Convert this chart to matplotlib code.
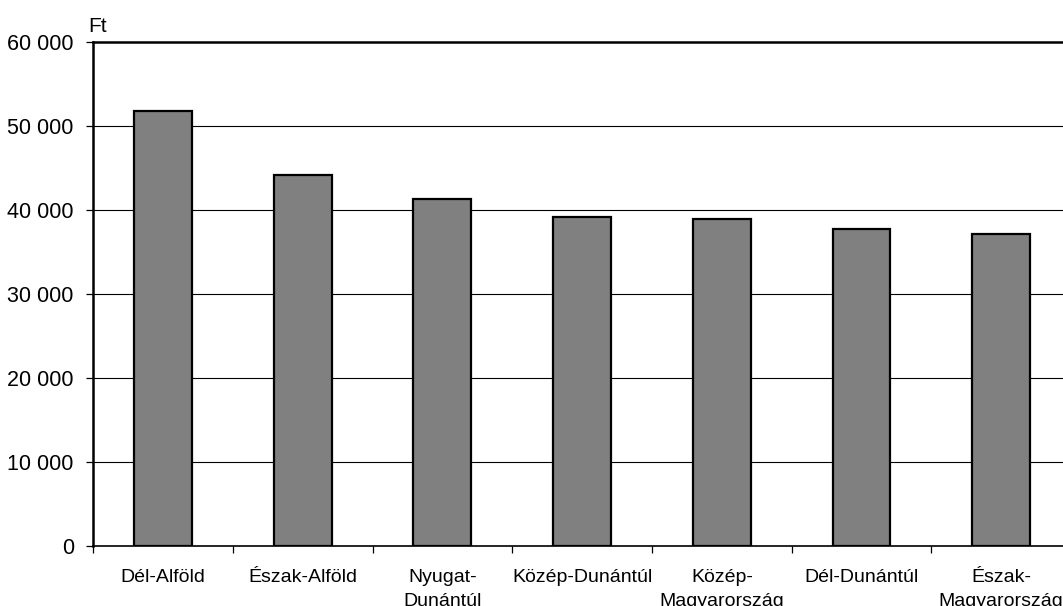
import matplotlib.pyplot as plt
from matplotlib.ticker import FuncFormatter

# data
regions = ['Dél-Alföld', 'Észak-Alföld', 'Nyugat-\nDunántúl', 'Közép-Dunántúl',
           'Közép-\nMagyarország', 'Dél-Dunántúl', 'Észak-\nMagyarország']
values = [51800, 44200, 41300, 39200, 38950, 37750, 37100]
yticks = [0, 10000, 20000, 30000, 40000, 50000, 60000]

plt.rcParams['font.family'] = ['Liberation Sans', 'DejaVu Sans']

fig = plt.figure(figsize=(10.63, 6.06), dpi=100)
# axis box runs slightly past the right edge like in the original
ax = fig.add_axes([93.3 / 1063, 60.3 / 606, (1071 - 93.3) / 1063, 503.4 / 606])

x = list(range(len(regions)))
ax.bar(x, values, width=0.415, color='#808080', edgecolor='black', linewidth=1.6, zorder=3)

ax.set_xlim(-0.5, len(regions) - 0.5)
ax.set_ylim(0, 60000)
ax.set_yticks(yticks)
ax.yaxis.set_major_formatter(FuncFormatter(lambda v, p: f'{int(v):,}'.replace(',', ' ')))
for y in yticks[1:-1]:
    ax.axhline(y, color='black', linewidth=0.8, zorder=1)

# category labels centred, ticks between categories
ax.set_xticks(x)
ax.set_xticklabels(regions, fontsize=14, linespacing=1.55)
ax.tick_params(axis='x', length=0, pad=17)
ax.set_xticks([i - 0.5 for i in range(len(regions) + 1)], minor=True)
ax.tick_params(axis='x', which='minor', length=5, width=0.9, direction='out')
ax.tick_params(axis='y', labelsize=15.5, length=5, width=0.9, direction='out', pad=9)

for side in ['left', 'top', 'bottom', 'right']:
    ax.spines[side].set_color('black')
ax.spines['left'].set_linewidth(1.8)
ax.spines['top'].set_linewidth(1.8)
ax.spines['bottom'].set_linewidth(1.2)
ax.spines['right'].set_linewidth(1.8)

fig.text(88 / 1063, 1 - 32 / 606, 'Ft', fontsize=15, ha='left', va='baseline')

fig.savefig('out.png', dpi=100)
